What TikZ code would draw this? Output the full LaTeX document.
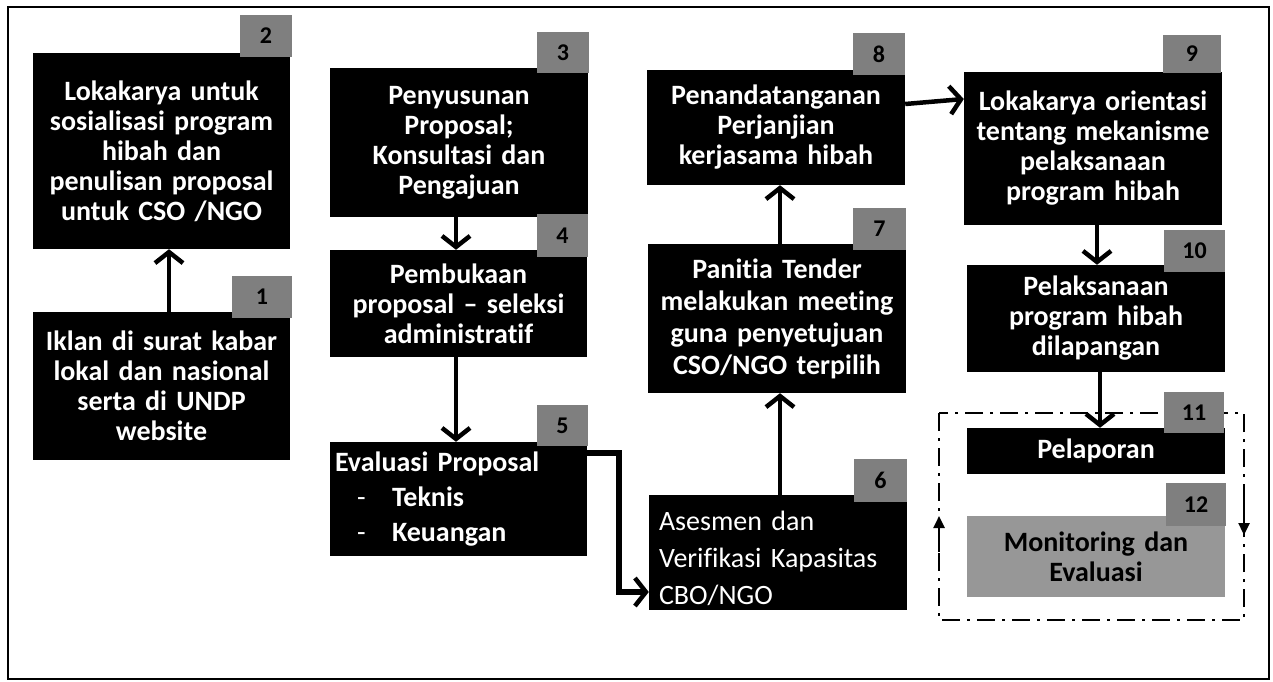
\documentclass[tikz,border=0pt]{standalone}
\usepackage{fontspec}
\setmainfont{Carlito}[Ligatures=NoCommon]
\usetikzlibrary{arrows.meta}
\definecolor{numgray}{HTML}{7F7F7F}
\definecolor{lightgray12}{HTML}{979797}
\begin{document}
\begin{tikzpicture}[x=1pt,y=-1pt,
  blk/.style={fill=black, text=white, inner sep=0pt, align=center,
    font=\bfseries\fontsize{28}{30}\selectfont},
  numbox/.style={fill=numgray, text=black, inner sep=0pt,
    font=\bfseries\fontsize{24}{26}\selectfont},
  arr/.style={line width=4.5pt, -{Straight Barb[length=11pt,width=28pt,line width=4.5pt]}},
  frame/.style={line width=2.5pt, dash pattern=on 18pt off 7pt on 3pt off 7pt},
  smallarr/.style={line width=2.5pt, -{Triangle[length=12pt,width=11pt]}}
]
\useasboundingbox (0,0) rectangle (1273,681);
\draw[line width=1.5pt] (8,7) rectangle (1269,679);

% dash-dot frame with cycle arrows (behind the boxes)
\draw[frame] (939,413) rectangle (1244,620);
\coordinate (la) at (939,552);
\coordinate (lb) at (939,516);
\coordinate (ra) at (1244,498);
\coordinate (rb) at (1244,535);
\draw[smallarr] (la) -- (lb);
\draw[smallarr] (ra) -- (rb);

% main boxes
\node[blk, minimum width=257pt, minimum height=148pt, text width=254pt] (b1) at (161.5,386)
  {Iklan di surat kabar\\lokal dan nasional\\serta di UNDP\\website};
\node[blk, minimum width=257pt, minimum height=196pt, text width=254pt] (b2) at (161.5,151)
  {Lokakarya untuk\\sosialisasi program\\hibah dan\\penulisan proposal\\untuk CSO /NGO};
\node[blk, minimum width=258pt, minimum height=149pt, text width=254pt] (b3) at (459,142.5)
  {Penyusunan\\Proposal;\\Konsultasi dan\\Pengajuan};
\node[blk, minimum width=257pt, minimum height=107pt, text width=254pt] (b4) at (458.5,303.5)
  {Pembukaan\\proposal -- seleksi\\administratif};
\node[blk, minimum width=257pt, minimum height=114pt, text width=250pt, align=left,
  font=\bfseries\fontsize{28}{35}\selectfont] (b5) at (458.5,499)
  {\hspace*{1.5pt}Evaluasi Proposal\\
   \hspace*{23.5pt}\makebox[35pt][l]{\mdseries -}Teknis\\
   \hspace*{23.5pt}\makebox[35pt][l]{\mdseries -}Keuangan};
\node[blk, minimum width=258pt, minimum height=115pt, text width=238pt, align=left,
  font=\mdseries\fontsize{28}{37}\selectfont] (b6) at (778,552.5)
  {\raisebox{-6pt}[\height][\depth]{Asesmen dan}\\
   \raisebox{-6pt}[\height][\depth]{Verifikasi Kapasitas}\\
   \raisebox{-6pt}[\height][\depth]{CBO/NGO}};
\node[blk, minimum width=258pt, minimum height=149pt, text width=254pt,
  font=\bfseries\fontsize{28}{32}\selectfont] (b7) at (777,318.5)
  {Panitia Tender\\melakukan meeting\\guna penyetujuan\\CSO/NGO terpilih};
\node[blk, minimum width=258pt, minimum height=115pt, text width=254pt] (b8) at (776,127.5)
  {Penandatanganan\\Perjanjian\\kerjasama hibah};
\node[blk, minimum width=258pt, minimum height=153pt, text width=254pt] (b9) at (1093,148.5)
  {Lokakarya orientasi\\tentang mekanisme\\pelaksanaan\\program hibah};
\node[blk, minimum width=258pt, minimum height=107pt, text width=254pt] (b10) at (1096,318.5)
  {Pelaksanaan\\program hibah\\dilapangan};
\node[blk, minimum width=258pt, minimum height=46pt, text width=254pt] (b11) at (1096,451)
  {Pelaporan};
\node[blk, fill=lightgray12, text=black, minimum width=258pt, minimum height=81pt, text width=254pt] (b12) at (1096,556.5)
  {Monitoring dan\\Evaluasi};

% number boxes
\node[numbox, minimum width=60pt, minimum height=42pt] (n1) at (262,297) {1};
\node[numbox, minimum width=52pt, minimum height=42pt] (n2) at (266,36) {2};
\node[numbox, minimum width=52pt, minimum height=41pt] (n3) at (563,52.5) {3};
\node[numbox, minimum width=51pt, minimum height=43pt] (n4) at (562.5,235.5) {4};
\node[numbox, minimum width=51pt, minimum height=41pt] (n5) at (562.5,425.5) {5};
\node[numbox, minimum width=53pt, minimum height=43pt] (n6) at (880.5,480.5) {6};
\node[numbox, minimum width=53pt, minimum height=42pt] (n7) at (879.5,229) {7};
\node[numbox, minimum width=52pt, minimum height=42pt] (n8) at (879,54) {8};
\node[numbox, minimum width=58pt, minimum height=38pt] (n9) at (1192,54) {9};
\node[numbox, minimum width=61pt, minimum height=42pt] (n10) at (1194.5,251) {10};
\node[numbox, minimum width=60pt, minimum height=41pt] (n11) at (1194,412.5) {11};
\node[numbox, minimum width=60pt, minimum height=43pt] (n12) at (1196,504.5) {12};

% connectors
\draw[arr] ([xshift=7.5pt]b1.north) -- ([xshift=7.5pt]b2.south);
\draw[arr] ([xshift=-3pt]b3.south) -- ([xshift=-2.5pt]b4.north);
\draw[arr] ([xshift=-2.5pt]b4.south) -- ([xshift=-2.5pt]b5.north);
\draw[arr, line width=6pt] ([yshift=46pt]b5.east) -- ++(32,0) |- ([yshift=-39.5pt]b6.west);
\draw[arr] ([xshift=2pt]b6.north) -- ([xshift=3pt]b7.south);
\draw[arr] ([xshift=3pt]b7.north) -- ([xshift=4pt]b8.south);
\draw[arr] ([yshift=23.5pt]b8.east) -- ([yshift=49.5pt]b9.west);
\draw[arr] ([xshift=4pt]b9.south) -- ([xshift=1pt]b10.north);
\draw[arr] ([xshift=4pt]b10.south) -- ([xshift=4pt]b11.north);
\end{tikzpicture}
\end{document}
